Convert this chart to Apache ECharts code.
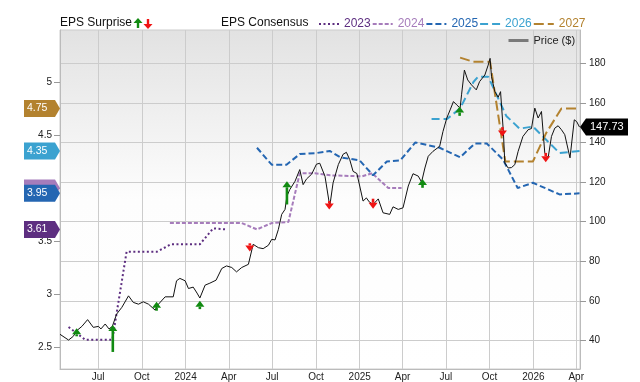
<!DOCTYPE html>
<html><head><meta charset="utf-8">
<script src="https://cdn.jsdelivr.net/npm/echarts@6/dist/echarts.min.js"></script>
<style>html,body{margin:0;padding:0;background:#fff}#c{width:640px;height:382px}</style>
</head><body><div id="c"></div>
<script>
// ---------- data ----------
const xTickDates = ['2023-07-01','2023-10-01','2024-01-01','2024-04-01','2024-07-01','2024-10-01','2025-01-01','2025-04-01','2025-07-01','2025-10-01','2026-01-01','2026-04-01'];
const monthNames = ['Jan','Feb','Mar','Apr','May','Jun','Jul','Aug','Sep','Oct','Nov','Dec'];
const epsTicks = [2.5,3,3.5,4,4.5,5];
const epsTickLabels = [2.5,3,3.5,4.5,5];
const priceTicks = [40,60,80,100,120,140,160,180];

const price = [
['2023-04-12',43.2],['2023-04-30',40.3],['2023-05-10',42.2],['2023-05-17',45.0],['2023-05-28',47.2],
['2023-06-09',50.6],['2023-06-21',46.7],['2023-07-02',47.2],['2023-07-07',45.9],['2023-07-16',48.4],
['2023-07-24',45.9],['2023-07-31',47.2],['2023-08-09',53.4],['2023-08-20',56.8],['2023-09-03',62.6],
['2023-09-13',59.3],['2023-09-24',58.4],['2023-10-04',59.6],['2023-10-15',58.4],['2023-10-29',55.4],
['2023-11-05',58.4],['2023-11-19',62.1],['2023-12-06',62.1],['2023-12-13',70.2],['2023-12-20',71.4],
['2023-12-31',70.2],['2024-01-07',66.3],['2024-01-17',67.0],['2024-01-25',64.0],['2024-01-31',61.5],
['2024-02-11',68.0],['2024-02-21',69.0],['2024-03-05',70.5],['2024-03-17',76.4],['2024-03-27',77.7],
['2024-04-07',76.9],['2024-04-17',74.7],['2024-04-28',76.9],['2024-05-12',78.5],['2024-05-22',88.6],
['2024-06-02',86.9],['2024-06-12',86.4],['2024-06-23',88.1],['2024-06-30',91.1],['2024-07-07',90.8],
['2024-07-14',96.1],['2024-07-21',103.7],['2024-07-28',106.2],['2024-08-01',112.9],['2024-08-07',116.2],
['2024-08-18',120.4],['2024-08-28',126.3],['2024-09-04',118.7],['2024-09-11',121.5],['2024-09-22',124.0],
['2024-10-02',129.0],['2024-10-09',129.5],['2024-10-20',122.9],['2024-10-30',107.8],['2024-11-06',119.6],
['2024-11-17',128.8],['2024-11-27',134.0],['2024-12-04',135.0],['2024-12-11',131.3],['2024-12-18',125.4],
['2024-12-26',124.3],['2025-01-01',118.0],['2025-01-08',110.4],['2025-01-15',112.0],['2025-01-21',110.0],
['2025-01-29',108.7],['2025-02-09',111.5],['2025-02-19',104.5],['2025-03-05',103.7],['2025-03-12',107.5],
['2025-03-23',106.2],['2025-04-02',107.0],['2025-04-13',118.0],['2025-04-23',124.2],['2025-05-04',123.0],
['2025-05-11',120.0],['2025-05-18',127.1],['2025-05-25',133.0],['2025-06-04',135.5],['2025-06-18',138.0],
['2025-06-25',145.5],['2025-07-03',152.3],['2025-07-10',156.4],['2025-07-17',160.6],['2025-07-24',158.9],
['2025-07-31',157.3],['2025-08-03',164.0],['2025-08-09',176.5],['2025-08-16',171.5],['2025-08-24',169.0],
['2025-09-03',166.5],['2025-09-10',170.7],['2025-09-21',174.0],['2025-09-28',179.0],['2025-10-02',182.4],
['2025-10-05',173.2],['2025-10-12',165.6],['2025-10-19',162.8],['2025-10-24',165.6],['2025-10-30',145.0],
['2025-11-02',129.6],['2025-11-09',127.1],['2025-11-16',127.3],['2025-11-23',128.8],['2025-11-30',135.5],
['2025-12-10',143.0],['2025-12-21',146.4],['2025-12-28',147.0],['2026-01-04',157.3],['2026-01-11',152.3],
['2026-01-18',155.6],['2026-01-25',134.7],['2026-02-01',132.2],['2026-02-08',143.0],['2026-02-15',147.2],
['2026-02-22',148.4],['2026-03-01',146.4],['2026-03-08',143.9],['2026-03-19',132.2],['2026-03-28',151.4],
['2026-04-02',150.5],['2026-04-08',147.73]
];

const eps2023 = [
['2023-04-30',2.69],['2023-06-04',2.57],['2023-07-31',2.57],['2023-08-30',3.40],['2023-11-02',3.40],
['2023-12-01',3.47],['2024-01-31',3.47],['2024-02-28',3.62],['2024-03-27',3.61]
];
const eps2024 = [
['2023-11-29',3.67],['2024-04-28',3.67],['2024-05-30',3.61],['2024-06-30',3.67],['2024-08-04',3.68],
['2024-08-28',4.14],['2024-09-29',4.14],['2024-10-31',4.12],['2025-01-06',4.11],['2025-01-27',4.14],
['2025-03-02',4.00],['2025-03-30',4.00]
];
const eps2025 = [
['2024-05-30',4.38],['2024-06-30',4.22],['2024-07-31',4.22],['2024-08-28',4.32],['2024-10-02',4.33],
['2024-10-30',4.35],['2024-11-21',4.29],['2025-01-01',4.26],['2025-01-29',4.12],['2025-02-27',4.25],
['2025-03-27',4.26],['2025-04-28',4.43],['2025-06-18',4.38],['2025-07-31',4.29],['2025-08-31',4.42],
['2025-09-25',4.42],['2025-10-29',4.27],['2025-11-29',4.00],['2025-12-31',4.05],['2026-02-25',3.94],
['2026-04-08',3.95]
];
const eps2026 = [
['2025-06-01',4.65],['2025-07-03',4.65],['2025-07-31',4.75],['2025-08-28',5.00],['2025-09-07',5.05],
['2025-09-28',5.05],['2025-11-05',4.68],['2025-12-03',4.56],['2025-12-31',4.58],['2026-02-25',4.33],
['2026-04-08',4.35]
];
const eps2027 = [
['2025-07-31',5.23],['2025-08-28',5.19],['2025-10-02',5.19],['2025-11-03',4.25],['2025-12-31',4.25],
['2026-01-28',4.52],['2026-03-01',4.75],['2026-04-08',4.75]
];

// surprises: [date, arrow tip price, arrow tail price]
const surpriseUp = [
['2023-05-17',46.2,42.2],['2023-08-01',47.9,34.3],['2023-11-01',59.6,55.1],['2024-01-31',60.1,55.9],
['2024-08-01',120.4,108.7],['2025-05-13',121.6,117.1],['2025-07-30',158.1,153.4]
];
const surpriseDown = [
['2024-05-15',85.0,89.1],['2024-10-29',106.2,110.4],['2025-01-29',106.5,111.6],
['2025-10-28',143.0,147.7],['2026-01-27',130.0,134.7]
];

// ---------- styles ----------
const FONT = 'Liberation Sans, Arial, sans-serif';
const GREEN = '#118a11', RED = '#f01414';
const epsSeries = [
  {name:'2023', data:eps2023, color:'#5d2e80', dash:[2,2.5], tagText:true},
  {name:'2024', data:eps2024, color:'#a67cbb', dash:[4,2], tagText:false},
  {name:'2025', data:eps2025, color:'#2466b2', dash:[6,3], tagText:true},
  {name:'2026', data:eps2026, color:'#3ba2d0', dash:[8,4], tagText:true},
  {name:'2027', data:eps2027, color:'#b3822f', dash:[10,4], tagText:true}
];

function ts(s){ return Date.UTC(+s.slice(0,4), +s.slice(5,7)-1, +s.slice(8,10)); }
function toTs(arr){ return arr.map(r => [ts(r[0])].concat(r.slice(1))); }

function arrowRenderer(color, up){
  return function(params, api){
    const tip = api.coord([api.value(0), api.value(1)]);
    const tail = api.coord([api.value(0), api.value(2)]);
    const dir = up ? 1 : -1;
    const hw = 4.5, hh = 6, sw = 1.3;
    const baseY = tip[1] + dir*hh;
    const y0 = Math.min(baseY, tail[1]), y1 = Math.max(baseY, tail[1]);
    return {type:'group', children:[
      {type:'rect', shape:{x:tip[0]-sw, y:y0, width:sw*2, height:y1-y0}, style:{fill:color}},
      {type:'polygon', shape:{points:[[tip[0],tip[1]],[tip[0]+hw,baseY],[tip[0]-hw,baseY]]}, style:{fill:color}}
    ]};
  };
}

const chart = echarts.init(document.getElementById('c'), null, {renderer:'canvas'});

const series = epsSeries.map(s => ({
  name:s.name, type:'line', yAxisIndex:0, data:toTs(s.data), symbol:'none', showSymbol:false,
  lineStyle:{color:s.color, width:2, type:s.dash}, itemStyle:{color:s.color}, z:3
}));
series.unshift({
  name:'Price ($)', type:'line', yAxisIndex:1, data:toTs(price), symbol:'none', showSymbol:false,
  lineStyle:{color:'#111', width:1}, itemStyle:{color:'#111'}, z:4
});
series.push({
  name:'up', type:'custom', yAxisIndex:1, data:toTs(surpriseUp), encode:{x:0, y:[1,2]},
  renderItem:arrowRenderer(GREEN, true), z:6, clip:false
});
series.push({
  name:'down', type:'custom', yAxisIndex:1, data:toTs(surpriseDown), encode:{x:0, y:[1,2]},
  renderItem:arrowRenderer(RED, false), z:6, clip:false
});

const xTickTs = xTickDates.map(ts);
const option = {
  animation:false,
  textStyle:{fontFamily:FONT},
  grid:{left:60, right:60, top:30, bottom:11, show:true, borderColor:'#cccccc', borderWidth:1,
    backgroundColor:new echarts.graphic.LinearGradient(0,0,0,1,[
      {offset:0,color:'#e2e2e2'},{offset:0.5,color:'#fdfdfd'},{offset:1,color:'#ffffff'}])},
  legend:[
    {data:epsSeries.map(s=>({name:s.name, textStyle:{color:s.color}})), left:313, top:13,
     itemWidth:20, itemHeight:10, itemGap:1, itemStyle:{opacity:0},
     textStyle:{fontSize:12, fontFamily:FONT}, selectedMode:false},
    {data:[{name:'Price ($)'}], left:502, top:30, itemWidth:20, itemHeight:10, selectedMode:false,
     itemStyle:{opacity:0},
     lineStyle:{color:'#7a7a7a', width:3, type:'solid'}, textStyle:{fontSize:11, color:'#222', fontFamily:FONT}}
  ],
  xAxis:{
    type:'value', min:ts('2023-04-12'), max:ts('2026-04-09'), scale:true,
    axisLine:{show:true, onZero:false, lineStyle:{color:'#bbbbbb'}},
    axisTick:{show:false, customValues:xTickTs},
    axisLabel:{customValues:xTickTs, margin:3, fontSize:10, color:'#222', hideOverlap:false,
      formatter:function(v){ const d=new Date(v); return d.getUTCMonth()===0 ? String(d.getUTCFullYear()) : monthNames[d.getUTCMonth()]; }},
    splitLine:{show:true, lineStyle:{color:'#cccccc'}}
  },
  yAxis:[
    {type:'value', position:'left', min:2.294, max:5.49,
     axisLine:{show:true, onZero:false, lineStyle:{color:'#bbbbbb'}},
     axisTick:{show:true, length:6, customValues:epsTicks, lineStyle:{color:'#999'}},
     axisLabel:{customValues:epsTickLabels, fontSize:10, color:'#222', margin:8, formatter:v=>String(v)},
     splitLine:{show:false}},
    {type:'value', position:'right', min:25.7, max:196.7,
     axisLine:{show:true, onZero:false, lineStyle:{color:'#bbbbbb'}},
     axisTick:{show:true, length:6, customValues:priceTicks, lineStyle:{color:'#999'}},
     axisLabel:{customValues:priceTicks, fontSize:10, color:'#222', margin:9},
     splitLine:{show:true, lineStyle:{color:'#cccccc'}}}
  ],
  series:series
};
chart.setOption(option);

// ---------- tags and header texts ----------
function leftTag(value, color, withText){
  const y = chart.convertToPixel({yAxisIndex:0}, value);
  const children = [
    {type:'polygon', z:100, shape:{points:[[24,y-8.5],[55,y-8.5],[60,y],[55,y+8.5],[24,y+8.5]]}, style:{fill:color}}
  ];
  if (withText) children.push({type:'text', z:101, x:27, y:y, style:{text:value.toFixed(2), fill:'#fff', font:'10.5px '+FONT, verticalAlign:'middle', align:'left'}});
  return {type:'group', children:children};
}
const graphics = [];
[1,0,2,3,4].forEach(i=>{
  const s = epsSeries[i];
  graphics.push(leftTag(s.data[s.data.length-1][1], s.color, s.tagText));
});
const lastPrice = price[price.length-1][1];
const py = chart.convertToPixel({yAxisIndex:1}, lastPrice);
graphics.push({type:'group', children:[
  {type:'polygon', z:100, shape:{points:[[580,py],[586,py-8.5],[628,py-8.5],[628,py+8.5],[586,py+8.5]]}, style:{fill:'#000'}},
  {type:'text', z:101, x:590, y:py, style:{text:lastPrice.toFixed(2), fill:'#fff', font:'11px '+FONT, verticalAlign:'middle'}}
]});
graphics.push({type:'text', x:60, y:23, style:{text:'EPS Surprise', fill:'#111', font:'12px '+FONT, verticalAlign:'middle'}});
graphics.push({type:'text', x:221, y:23, style:{text:'EPS Consensus', fill:'#111', font:'12px '+FONT, verticalAlign:'middle'}});
graphics.push({type:'polygon', shape:{points:[[138,18],[142.5,23],[133.5,23]]}, style:{fill:GREEN}});
graphics.push({type:'rect', shape:{x:136.8, y:23, width:2.4, height:5}, style:{fill:GREEN}});
graphics.push({type:'polygon', shape:{points:[[148,29],[152.5,24],[143.5,24]]}, style:{fill:RED}});
graphics.push({type:'rect', shape:{x:146.8, y:19, width:2.4, height:5}, style:{fill:RED}});
chart.setOption({graphic:graphics});
</script>
</body></html>
